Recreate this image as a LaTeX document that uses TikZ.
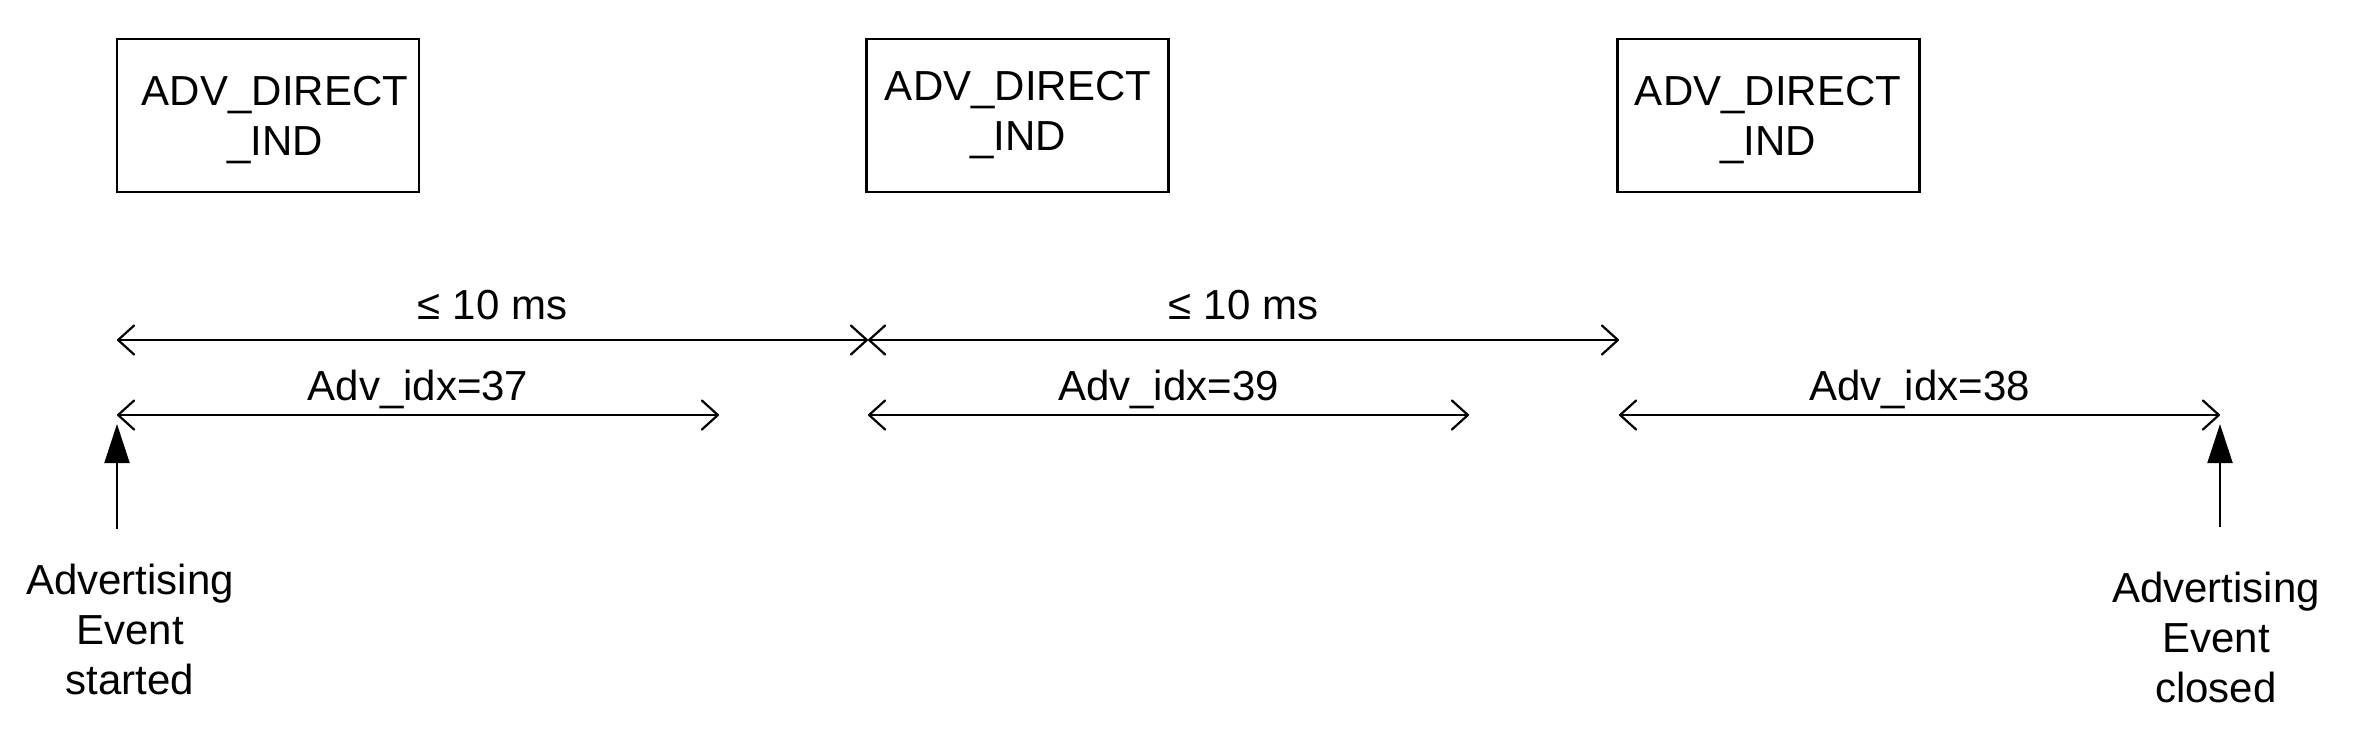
\documentclass[tikz,border=0pt]{standalone}
\usepackage{fontspec}
\setmainfont{Liberation Sans}
\usetikzlibrary{arrows.meta}
\begin{document}
\begin{tikzpicture}[x=0.5pt,y=-0.5pt,
  font=\fontsize{21}{25}\selectfont,
  pdubox/.style={draw,line width=1.3pt,minimum width=151pt,minimum height=76.5pt,inner sep=0pt},
  boxtext/.style={align=center,inner sep=0pt},
  span/.style={line width=1.1pt,{Straight Barb[length=8pt,width=14.5pt,line join=round,line cap=round]}-{Straight Barb[length=8pt,width=14.5pt,line join=round,line cap=round]}},
  spanlbl/.style={anchor=base,inner sep=0pt},
  evarrow/.style={line width=1pt,-{Triangle[length=19.5pt,width=12.5pt]}},
  evtext/.style={align=center,inner sep=0pt}]
\useasboundingbox (0,0) rectangle (2357,735);
% boxes
\node[pdubox] (b1) at (268,115.5) {};
\node[pdubox] (b2) at (1017.5,115.5) {};
\node[pdubox] (b3) at (1768.5,115.5) {};
\node[boxtext] (t1) at (275,120) {ADV\_DIRECT\\\_IND};
\node[boxtext] (t2) at (1018,115) {ADV\_DIRECT\\\_IND};
\node[boxtext] (t3) at (1768,120) {ADV\_DIRECT\\\_IND};
% top spans
\coordinate (a0) at (117,340);
\coordinate (a1) at (868,340);
\coordinate (a2) at (1619,340);
\draw[span] (a0) -- node[midway,spanlbl,yshift=10.5pt] {≤ 10 ms} (a1);
\draw[span] (a1) -- node[midway,spanlbl,yshift=10.5pt] {≤ 10 ms} (a2);
% index spans
\coordinate (c0) at (117,415);
\coordinate (c0e) at (719,415);
\coordinate (c1) at (868,415);
\coordinate (c1e) at (1469,415);
\coordinate (c2) at (1619,415);
\coordinate (c2e) at (2220,415);
\draw[span] (c0) -- node[midway,spanlbl,yshift=7.5pt] {Adv\_idx=37} (c0e);
\draw[span] (c1) -- node[midway,spanlbl,yshift=7.5pt] {Adv\_idx=39} (c1e);
\draw[span] (c2) -- node[midway,spanlbl,yshift=7.5pt] {Adv\_idx=38} (c2e);
% event arrows
\coordinate (s0) at (117,529);
\coordinate (s1) at (117,424);
\coordinate (e0) at (2220,527);
\coordinate (e1) at (2220,424);
\draw[evarrow] (s0) -- (s1);
\draw[evarrow] (e0) -- (e1);
\node[evtext] (st) at (130,629) {Advertising\\Event\\started};
\node[evtext] (cl) at (2216,637) {Advertising\\Event\\closed};
\end{tikzpicture}
\end{document}
